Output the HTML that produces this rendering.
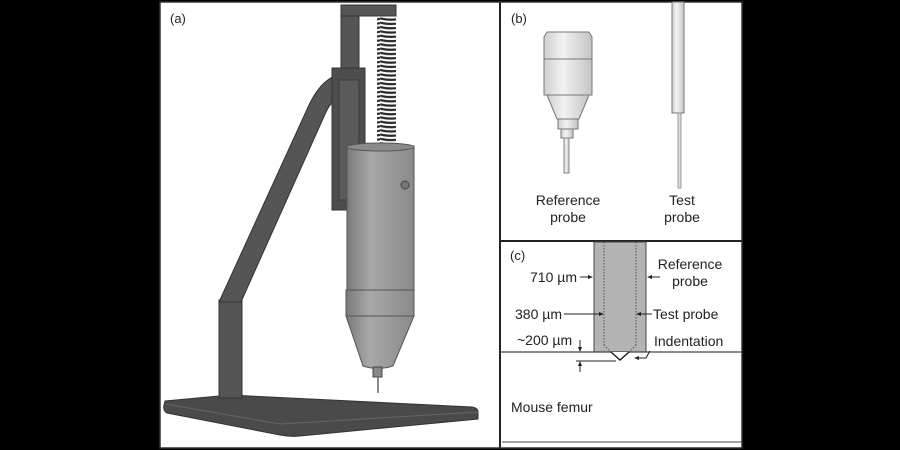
<!DOCTYPE html>
<html><head><meta charset="utf-8"><style>
html,body{margin:0;padding:0;background:#000;}
svg{display:block;}
text{font-family:"Liberation Sans",Arial,sans-serif;fill:#222;}
</style></head><body>
<svg width="900" height="450" viewBox="0 0 900 450" xmlns="http://www.w3.org/2000/svg">
<defs>
<pattern id="coil" x="0" y="17" width="20" height="4.3" patternUnits="userSpaceOnUse">
<path d="M1 1.5 Q10 3.6 19 2" stroke="#2a2a2a" stroke-width="2.2" fill="none" stroke-linecap="round"/>
</pattern>
<linearGradient id="cyl" x1="0" x2="1">
<stop offset="0" stop-color="#7a7a7a"/><stop offset="0.35" stop-color="#a8a8a8"/><stop offset="1" stop-color="#8a8a8a"/>
</linearGradient>
<linearGradient id="rp" x1="0" x2="1">
<stop offset="0" stop-color="#cfcfcf"/><stop offset="0.4" stop-color="#f2f2f2"/><stop offset="1" stop-color="#c4c4c4"/>
</linearGradient>
</defs>
<rect x="0" y="0" width="900" height="450" fill="#000"/>
<rect x="160" y="2" width="582" height="446" fill="#fff"/>
<line x1="500" y1="2" x2="500" y2="448" stroke="#222" stroke-width="2"/>
<line x1="500" y1="241" x2="742" y2="241" stroke="#222" stroke-width="2"/>
<rect x="160" y="2" width="582" height="446" fill="none" stroke="#333" stroke-width="1.5"/>

<!-- Panel a -->
<text x="170" y="23" font-size="13">(a)</text>
<path d="M165 401 L230 395 L472 407 Q478 408 478 412 L478 419 L300 436 Q290 437 280 435 L167 413 Q163 411 164 405 Z" fill="#4a4a4a" stroke="#333"/>
<path d="M165 404 L280 424 L478 412" fill="none" stroke="#666" stroke-width="1"/>
<rect x="219" y="300" width="23" height="98" fill="#555" stroke="#333"/>
<path d="M219 302 L309 105 Q320 82 335 76 L336 100 Q330 103 326 112 L241 302 Z" fill="#555" stroke="#333"/>
<rect x="341" y="5" width="18" height="70" fill="#555" stroke="#333"/>
<rect x="341" y="5" width="55" height="11" fill="#555" stroke="#333"/>
<rect x="332" y="68" width="33" height="142" fill="#4d4d4d" stroke="#333"/>
<rect x="339" y="80" width="20" height="120" fill="#5a5a5a" stroke="#3a3a3a"/>
<rect x="377" y="17" width="19" height="127" fill="url(#coil)"/>
<rect x="347" y="146" width="67" height="144" fill="url(#cyl)" stroke="#555"/>
<ellipse cx="380.5" cy="147" rx="33.5" ry="4" fill="#8a8a8a" stroke="#555"/>
<circle cx="405" cy="185" r="4" fill="#777" stroke="#444"/>
<rect x="346" y="290" width="68" height="26" fill="url(#cyl)" stroke="#555"/>
<path d="M346 316 L414 316 L393 366 Q378 371 363 366 Z" fill="url(#cyl)" stroke="#555"/>
<rect x="373" y="367" width="9" height="10" fill="#888" stroke="#444"/>
<line x1="378" y1="377" x2="378" y2="393" stroke="#666" stroke-width="1.5"/>

<!-- Panel b -->
<text x="511" y="23" font-size="13">(b)</text>
<path d="M547 32 L589 32 L592 37 L592 59 L544 59 L544 37 Z" fill="url(#rp)" stroke="#777"/>
<rect x="544" y="59" width="48" height="36" fill="url(#rp)" stroke="#777"/>
<path d="M547 95 L589 95 L579 119 L557 119 Z" fill="url(#rp)" stroke="#777"/>
<rect x="558" y="119" width="20" height="10" fill="url(#rp)" stroke="#777"/>
<rect x="561" y="129" width="12" height="9" fill="url(#rp)" stroke="#777"/>
<rect x="564" y="138" width="5" height="35" fill="url(#rp)" stroke="#888"/>
<rect x="672" y="2" width="12" height="111" fill="url(#rp)" stroke="#777"/>
<rect x="678" y="113" width="3" height="75" fill="#ddd" stroke="#888" stroke-width="0.8"/>
<text x="568" y="205" font-size="14" text-anchor="middle">Reference</text>
<text x="568" y="222" font-size="14" text-anchor="middle">probe</text>
<text x="682" y="205" font-size="14" text-anchor="middle">Test</text>
<text x="682" y="222" font-size="14" text-anchor="middle">probe</text>

<!-- Panel c -->
<text x="510" y="260" font-size="13">(c)</text>
<rect x="594" y="242" width="52" height="110" fill="#b3b3b3" stroke="#444"/>
<line x1="604" y1="242" x2="604" y2="345" stroke="#555" stroke-dasharray="1.5,1.5"/>
<line x1="636" y1="242" x2="636" y2="345" stroke="#555" stroke-dasharray="1.5,1.5"/>
<path d="M604 345 L611 352 M636 345 L629 352" stroke="#555" stroke-dasharray="1.5,1.5"/>
<line x1="500" y1="352" x2="742" y2="352" stroke="#444" stroke-width="1.2"/>
<path d="M611 352 L620 360 L629 352" fill="#fff" stroke="#222" stroke-width="1.5"/>
<line x1="502" y1="442" x2="742" y2="442" stroke="#444"/>
<text x="577" y="282" font-size="14" text-anchor="end">710 µm</text>
<path d="M580 277 L592 277" stroke="#222"/><path d="M593 277 L588 275 L588 279 Z" fill="#222"/>
<path d="M648 277 L660 277" stroke="#222"/><path d="M647 277 L652 275 L652 279 Z" fill="#222"/>
<text x="690" y="269" font-size="14" text-anchor="middle">Reference</text>
<text x="690" y="286" font-size="14" text-anchor="middle">probe</text>
<text x="562" y="319" font-size="14" text-anchor="end">380 µm</text>
<path d="M564 314 L602 314" stroke="#222"/><path d="M604 314 L599 312 L599 316 Z" fill="#222"/>
<path d="M638 314 L652 314" stroke="#222"/><path d="M636 314 L641 312 L641 316 Z" fill="#222"/>
<text x="653" y="319" font-size="14">Test probe</text>
<text x="517" y="345" font-size="14">~200 µm</text>
<text x="654" y="346" font-size="14">Indentation</text>
<path d="M580 340 L580 350" stroke="#222"/><path d="M580 352 L578 347 L582 347 Z" fill="#222"/>
<path d="M576 361 L616 361" stroke="#222"/>
<path d="M580 363 L580 372" stroke="#222"/><path d="M580 361 L578 366 L582 366 Z" fill="#222"/>
<path d="M650 351 L646 358 L637 358" stroke="#222" fill="none"/><path d="M634 358 L639 356 L639 360 Z" fill="#222"/>
<text x="511" y="412" font-size="14">Mouse femur</text>
</svg>
</body></html>
